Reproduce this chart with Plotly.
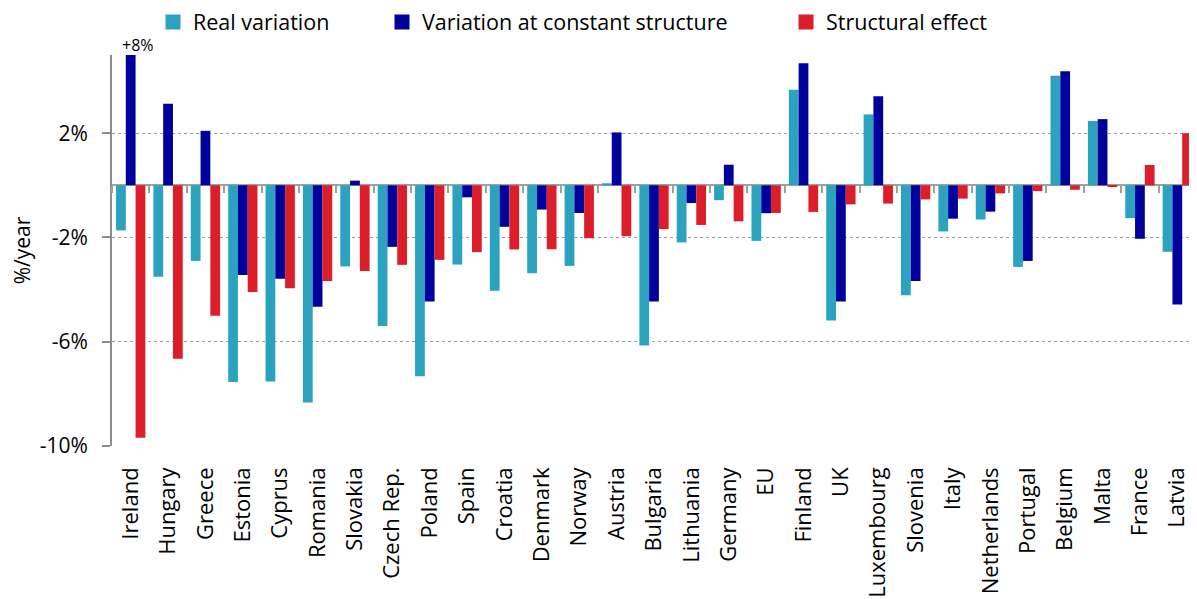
import plotly.graph_objects as go

countries = ["Ireland", "Hungary", "Greece", "Estonia", "Cyprus", "Romania", "Slovakia",
             "Czech Rep.", "Poland", "Spain", "Croatia", "Denmark", "Norway", "Austria",
             "Bulgaria", "Lithuania", "Germany", "EU", "Finland", "UK", "Luxembourg",
             "Slovenia", "Italy", "Netherlands", "Portugal", "Belgium", "Malta", "France", "Latvia"]

real_var = [-1.73, -3.51, -2.90, -7.54, -7.53, -8.33, -3.11, -5.40, -7.32, -3.04, -4.04, -3.37,
            -3.09, 0.08, -6.14, -2.19, -0.57, -2.13, 3.67, -5.19, 2.72, -4.22, -1.77, -1.31,
            -3.13, 4.20, 2.47, -1.26, -2.55]
const_struct = [8.0, 3.13, 2.09, -3.44, -3.58, -4.66, 0.18, -2.36, -4.46, -0.46, -1.59, -0.93,
                -1.06, 2.03, -4.46, -0.68, 0.79, -1.07, 4.68, -4.46, 3.42, -3.67, -1.28, -1.01,
                -2.90, 4.38, 2.54, -2.05, -4.57]
struct_eff = [-9.68, -6.65, -5.00, -4.09, -3.95, -3.67, -3.29, -3.05, -2.86, -2.56, -2.46, -2.45,
              -2.03, -1.95, -1.68, -1.52, -1.38, -1.06, -1.02, -0.73, -0.70, -0.54, -0.51, -0.31,
              -0.22, -0.17, -0.06, 0.78, 2.00]

y_ticks = [2, -2, -6, -10]
y_tick_text = ["2%", "-2%", "-6%", "-10%"]
y_range = [-10, 5]

FONT = "Open Sans, Liberation Sans, Arial, sans-serif"

# page has an 8px body margin, so the figure is a bit smaller than the window
W, H = 1189, 591

series = [
    ("Real variation", real_var, "#2BA3BF", "legend", 145),
    ("Variation at constant structure", const_struct, "#00009C", "legend2", 374),
    ("Structural effect", struct_eff, "#DC1E2A", "legend3", 778),
]

fig = go.Figure()
for name, vals, color, leg, _ in series:
    fig.add_trace(go.Bar(x=countries, y=vals, name=name, marker_color=color,
                         marker_line_width=0, showlegend=False))
    # legend-only entry so the swatch is a bigger square
    fig.add_trace(go.Scatter(x=[None], y=[None], mode="markers", name=name, legend=leg,
                             marker=dict(symbol="square", size=15, color=color)))

# empty trace on a second category axis: its ticks sit on the zero line
fig.add_trace(go.Scatter(x=countries, y=[None] * len(countries), xaxis="x2",
                         showlegend=False, hoverinfo="skip"))

fig.add_annotation(x="Ireland", y=y_range[1], yref="y", text="+8%", showarrow=False,
                   yanchor="bottom", xshift=7, yshift=-3,
                   font=dict(size=16, color="#000", family=FONT))

leg_common = dict(orientation="h", xref="container", yref="container", yanchor="middle",
                  y=1 - 14 / H, xanchor="left", font=dict(size=21.5, family=FONT),
                  bgcolor="rgba(0,0,0,0)", itemsizing="trace")

legends = {}
for _, _, _, leg, xpx in series:
    legends[leg] = dict(x=xpx / W, **leg_common)

fig.update_layout(
    width=W, height=H,
    margin=dict(l=104, r=1, t=47, b=153, autoexpand=False),
    plot_bgcolor="white", paper_bgcolor="white",
    barmode="group", bargap=0.216, bargroupgap=0,
    font=dict(family=FONT, size=20, color="#000"),
    xaxis=dict(type="category", categoryarray=countries, tickangle=-90, ticks="",
               showline=False, showgrid=False, ticklabelstandoff=16, automargin=False,
               tickfont=dict(size=22), range=[-0.5, len(countries) - 0.5]),
    xaxis2=dict(type="category", categoryarray=countries, overlaying="x", matches="x",
                anchor="free", position=(0 - y_range[0]) / (y_range[1] - y_range[0]),
                showticklabels=False, ticks="outside", tickson="boundaries", ticklen=7,
                tickcolor="#a0a0a0", tickwidth=2, showline=False, showgrid=False,
                automargin=False),
    yaxis=dict(range=y_range, tickvals=y_ticks, ticktext=y_tick_text, automargin=False,
               showgrid=True, gridcolor="#9a9a9a", griddash="dot", gridwidth=1,
               zeroline=True, zerolinecolor="#a0a0a0", zerolinewidth=2,
               showline=True, linecolor="#8c8c8c", linewidth=2,
               ticks="outside", ticklen=8, tickcolor="#8c8c8c", tickwidth=2,
               ticklabelstandoff=10, tickfont=dict(size=21),
               title=dict(text="%/year", font=dict(size=21), standoff=6)),
    **legends,
)

fig.write_html("out.html")
